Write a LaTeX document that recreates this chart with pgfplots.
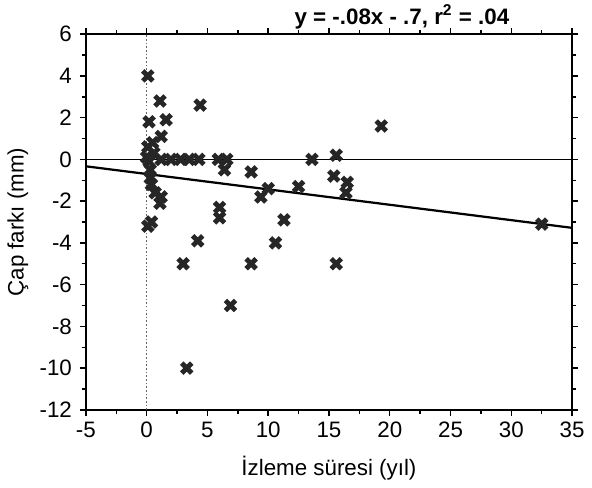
\documentclass[border=0pt]{standalone}
\usepackage{fontspec}
\setmainfont{Liberation Sans}
\usepackage{pgfplots}
\pgfplotsset{compat=1.18}
\begin{document}
\fontsize{11pt}{13pt}\selectfont
\begin{tikzpicture}
\begin{axis}[
  scale only axis,
  width=239.5pt, height=185pt,
  xmin=-5, xmax=35, ymin=-12, ymax=6,
  xtick={-5,0,...,35}, ytick={-12,-10,...,6},
  minor xtick={-2.5,2.5,...,32.5},
  minor ytick={-11,-9,...,5},
  tick align=outside,
  major tick length=3pt, minor tick length=2pt,
  tick style={black, line width=0.7pt},
  axis line style={line width=1pt},
  /pgf/number format/assume math mode=true,
  ticklabel style={font=\fontsize{11pt}{13pt}\selectfont},
  xticklabel style={yshift=1pt},
  xlabel={İzleme süresi (yıl)},
  ylabel={Çap farkı (mm)},
  label style={font=\fontsize{11pt}{13pt}\selectfont},
  xlabel style={yshift=-1.5pt},
  ylabel style={yshift=-2pt},
  clip=false,
]
\addplot[black, line width=0.7pt, forget plot] coordinates {(-5,0) (35,0)};
\addplot[black!60, densely dotted, line width=0.8pt, forget plot] coordinates {(0,-12) (0,6)};
\addplot[black, line width=1.1pt, forget plot] coordinates {(-5,-0.33) (35,-3.28)};
\addplot[only marks, mark=x, mark size=3.5pt, mark options={line width=2.4pt, black!85}] coordinates {
(0.1,4.0) (1.1,2.8) (0.2,1.8) (1.6,1.9) (4.4,2.6) (1.2,1.1) (0.5,0.8) (0.1,0.6)
(0.6,0.3) (0,0.1) (0.2,-0.1) (1.2,0) (2.0,0) (2.8,0) (3.5,0) (4.3,0) (5.9,0)
(6.6,0) (6.4,-0.5) (8.6,-0.6) (0.3,-0.5) (0.3,-0.9) (0.4,-1.2) (0.7,-1.6)
(1.2,-1.8) (1.1,-2.1) (0.4,-3.0) (0.1,-3.2) (6.0,-2.3) (6.0,-2.8) (4.2,-3.9)
(3.0,-5.0) (3.3,-10.0) (8.6,-5.0) (6.9,-7.0) (9.4,-1.8) (10.0,-1.4) (11.3,-2.9)
(10.6,-4.0) (15.6,-5.0) (12.5,-1.3) (13.6,0) (15.6,0.2) (15.4,-0.8) (16.5,-1.1)
(16.4,-1.6) (19.3,1.6) (32.5,-3.1)
};
\node[anchor=south, font=\bfseries\fontsize{11pt}{13pt}\selectfont, inner sep=2.5pt] at (rel axis cs:0.65,1) {y = -.08x - .7, r$^{\mathbf{2}}$ = .04};
\end{axis}
\end{tikzpicture}
\end{document}
